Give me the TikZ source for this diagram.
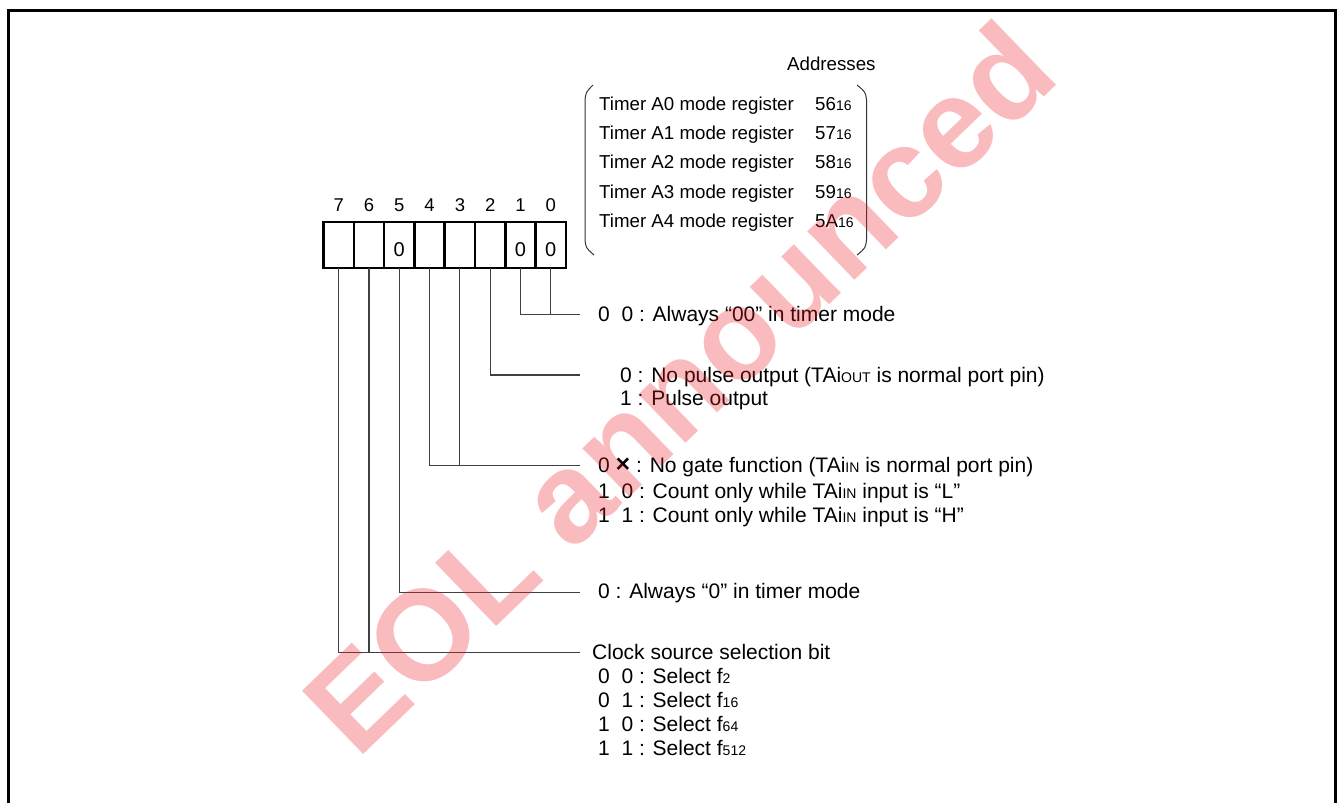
\documentclass[tikz,border=0pt]{standalone}
\usepackage{fontspec}
\setmainfont{Liberation Sans}
\definecolor{wmred}{RGB}{235,30,35}
\newcommand\smallsub[1]{{\fontsize{14}{14}\selectfont #1}}
\newcommand\twosp{\hspace*{0.556em}}
\newcommand\bigx{{\fontsize{25}{25}\selectfont\bfseries ×}}
\begin{document}
\begin{tikzpicture}[x=1pt,y=-1pt,
  cell/.style={draw,line width=2.6pt,minimum width=30.3pt,minimum height=46pt,inner sep=0pt,outer sep=0pt,
    font=\fontsize{20}{20}\selectfont,text height=22.3pt,text depth=0pt},
  bitnum/.style={anchor=base,inner sep=0pt,font=\fontsize{18.5}{18.5}\selectfont},
  desc/.style={anchor=base west,inner sep=0pt,font=\fontsize{21}{24}\selectfont},
  reg/.style={anchor=base west,inner sep=0pt,font=\fontsize{18.7}{20}\selectfont},
  conn/.style={draw=black!75,line width=1.1pt},
  bracket/.style={draw=black!80,line width=1pt}]
\useasboundingbox (0,0) rectangle (1339,803);
\begin{scope}
  \clip (0,0) rectangle (1339,803);
  \draw[line width=2.6pt] (8.7,10.5) rectangle (1335.5,830);
\end{scope}

% register cells and bit numbers
\foreach \i/\v [count=\k from 0] in {7/,6/,5/0,4/,3/,2/,1/0,0/0}{
  \node[cell] (c\i) at ({338.7+30.3*\k},245) {\v};
  \node[bitnum] (n\i) at ({338.7+30.3*\k},211.7) {\i};
}

% connectors
\coordinate (e10) at (580,314.3);
\draw[conn] (c1.south) |- (e10);
\draw[conn] (c0.south) -- (c0.south |- e10);
\coordinate (e2) at (580,375);
\draw[conn] (c2.south) |- (e2);
\coordinate (e43) at (580,465.7);
\draw[conn] (c4.south) |- (e43);
\draw[conn] (c3.south) -- (c3.south |- e43);
\coordinate (e5) at (580,592.3);
\draw[conn] (c5.south) |- (e5);
\coordinate (e76) at (580,652.7);
\draw[conn] (c7.south) |- (e76);
\draw[conn] (c6.south) -- (c6.south |- e76);

% descriptions
\node[desc] (t10) at (598,321.3) {0\twosp 0 : Always “00” in timer mode};
\node[desc] (t2a) at (620,382) {0 : No pulse output (TAi\smallsub{OUT} is normal port pin)};
\node[desc] (t2b) at (620,405.5) {1 : Pulse output};
\node[desc] (t43a) at (598,472.7) {0 \bigx\ : No gate function (TAi\smallsub{IN} is normal port pin)};
\node[desc] (t43b) at (598,498) {1\twosp 0 : Count only while TAi\smallsub{IN} input is “L”};
\node[desc] (t43c) at (598,522.7) {1\twosp 1 : Count only while TAi\smallsub{IN} input is “H”};
\node[desc] (t5) at (598,598.5) {0 : Always “0” in timer mode};
\node[desc] (t76) at (592,659.3) {Clock source selection bit};
\node[desc] (t76a) at (598,683.3) {0\twosp 0 : Select f\smallsub{2}};
\node[desc] (t76b) at (598,707) {0\twosp 1 : Select f\smallsub{16}};
\node[desc] (t76c) at (598,731) {1\twosp 0 : Select f\smallsub{64}};
\node[desc] (t76d) at (598,755) {1\twosp 1 : Select f\smallsub{512}};

% register names and addresses
\node[reg] (addr) at (787,70) {Addresses};
\foreach \n/\a [count=\k from 0] in {0/56,1/57,2/58,3/59,4/5A}{
  \node[reg] (r\n) at (599,{110.5+29.2*\k}) {Timer A\n\ mode register};
  \node[reg] (a\n) at (815,{110.5+29.2*\k}) {\a\smallsub{16}};
}
\draw[bracket] (593,85) .. controls (586,92) .. (585,100) -- (585,240) .. controls (586,248) .. (594,255);
\draw[bracket] (857,85) .. controls (865.5,92) .. (866.5,100) -- (866.5,240) .. controls (865.5,248) .. (857,255);

% watermark
\node[rotate=44,anchor=base west,inner sep=0pt,text=wmred,text opacity=0.3,
  font=\fontsize{128}{128}\selectfont\bfseries] (wm) at (357,761) {EOL announced};
\end{tikzpicture}
\end{document}
